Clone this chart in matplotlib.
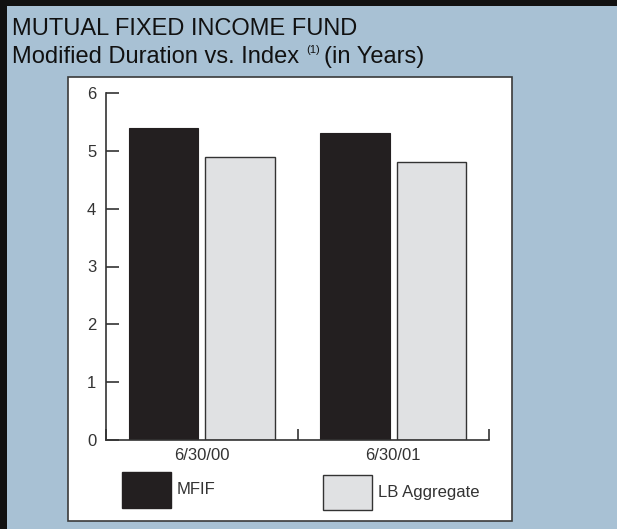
import matplotlib
matplotlib.use('Agg')
import matplotlib.pyplot as plt
from matplotlib.patches import Rectangle
import numpy as np

plt.rcParams['font.family'] = ['Liberation Sans', 'DejaVu Sans']

dates = ["6/30/00", "6/30/01"]
series = ["MFIF", "LB Aggregate"]
mfif = [5.4, 5.3]
lb_agg = [4.9, 4.8]
yticks = [0, 1, 2, 3, 4, 5, 6]

BG = "#a8c1d4"
DARK = "#231f20"
LIGHT = "#e0e1e3"
AXC = "#333333"

W, H = 617, 529
fig = plt.figure(figsize=(W / 100, H / 100), dpi=100)
fig.patch.set_facecolor(BG)

def fx(px):
    return px / W

def fy(py):
    return (H - py) / H

# dark frame on left and top edges
fig.patches.append(Rectangle((0, 0), fx(7), 1, transform=fig.transFigure,
                             facecolor="#111111", edgecolor="none", zorder=-2))
fig.patches.append(Rectangle((0, fy(6)), 1, 1 - fy(6), transform=fig.transFigure,
                             facecolor="#111111", edgecolor="none", zorder=-2))

# white panel
fig.patches.append(Rectangle((fx(68), fy(521)), fx(512) - fx(68), fy(77) - fy(521),
                             transform=fig.transFigure, facecolor="white",
                             edgecolor="#3a3a3a", linewidth=1.2, zorder=-1))

# titles
fig.text(fx(12), fy(35), "MUTUAL FIXED INCOME FUND", fontsize=17, color="#111111",
         va="baseline", ha="left")
renderer = fig.canvas.get_renderer()
t1 = fig.text(fx(12), fy(63), "Modified Duration vs. Index", fontsize=17,
              color="#111111", va="baseline", ha="left")
bb = t1.get_window_extent(renderer)
t2 = fig.text((bb.x1 + 7) / W, fy(53), "(1)", fontsize=8, color="#111111",
              va="baseline", ha="left")
bb2 = t2.get_window_extent(renderer)
fig.text((bb2.x1 + 4) / W, fy(63), "(in Years)", fontsize=17, color="#111111",
         va="baseline", ha="left")

# axes
ax = fig.add_axes([fx(106), fy(440), fx(489) - fx(106), fy(93) - fy(440)])
ax.set_zorder(1)
ax.set_facecolor("white")

x = np.arange(len(dates))
w = 0.365
ax.bar(x - 0.2, mfif, w, color=DARK, edgecolor=DARK, linewidth=0.8, label=series[0])
ax.bar(x + 0.2, lb_agg, w, color=LIGHT, edgecolor=AXC, linewidth=1.0, label=series[1])

ax.set_xlim(-0.5, len(dates) - 0.5)
ax.set_ylim(0, 6)
ax.set_yticks(yticks)
ax.set_yticklabels([str(v) for v in yticks])

ax.set_xticks(np.arange(-0.5, len(dates), 1.0))
ax.set_xticklabels([])
ax.set_xticks(x, minor=True)
ax.set_xticklabels(dates, minor=True)

for s in ["top", "right"]:
    ax.spines[s].set_visible(False)
for s in ["left", "bottom"]:
    ax.spines[s].set_color(AXC)
    ax.spines[s].set_linewidth(1.2)

ax.tick_params(axis="y", direction="in", length=9, width=1.2, color=AXC,
               labelsize=12, labelcolor="#333333", pad=7)
ax.tick_params(axis="x", which="major", direction="in", length=8, width=1.2, color=AXC)
ax.tick_params(axis="x", which="minor", length=0, labelsize=12,
               labelcolor="#333333", pad=6)

# legend drawn as boxes inside the panel
handles, labels = ax.get_legend_handles_labels()
leg_boxes = [(122, 472, 171, 508), (323, 475, 372, 510)]
for h, lab, (x0, y0, x1, y1) in zip(handles, labels, leg_boxes):
    fc = h.patches[0].get_facecolor()
    ec = h.patches[0].get_edgecolor()
    fig.patches.append(Rectangle((fx(x0), fy(y1)), fx(x1) - fx(x0), fy(y0) - fy(y1),
                                 transform=fig.transFigure, facecolor=fc,
                                 edgecolor=ec, linewidth=1.0, zorder=2))
    fig.text(fx(x1 + 6), fy((y0 + y1) / 2), lab, fontsize=12, color="#333333",
             va="center", ha="left")

plt.savefig("out.png", dpi=100, facecolor=BG)
